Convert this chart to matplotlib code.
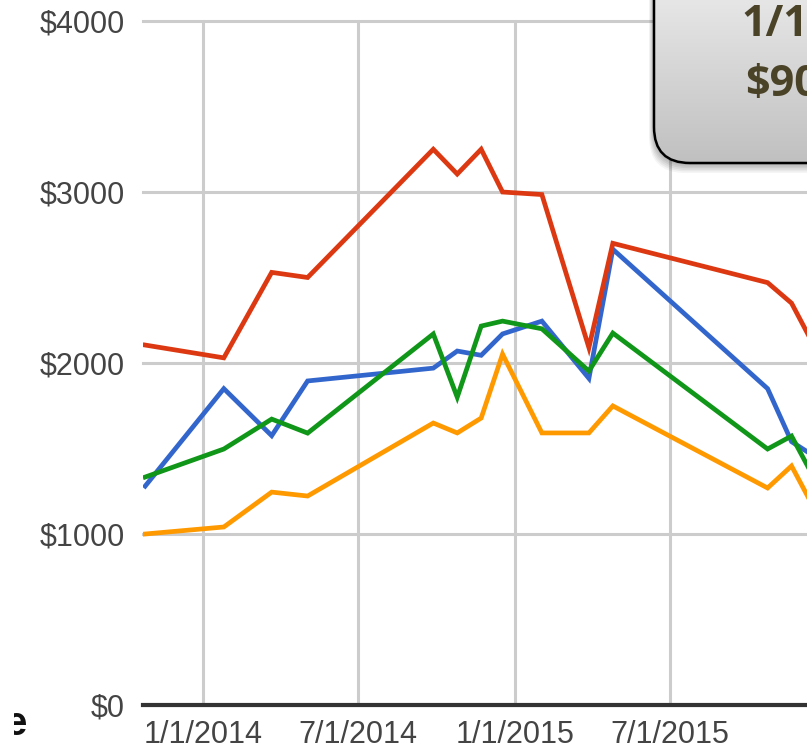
import matplotlib
matplotlib.use("Agg")
import matplotlib.pyplot as plt
import matplotlib.dates as mdates
from matplotlib.patches import FancyBboxPatch, Rectangle
from matplotlib.colors import LinearSegmentedColormap
import numpy as np
import datetime as dt

# ---- data ----
dates = ["2013-10-25", "2014-01-25", "2014-03-22", "2014-05-03", "2014-09-27",
         "2014-10-25", "2014-11-22", "2014-12-17", "2015-02-01", "2015-03-28",
         "2015-04-25", "2015-10-23", "2015-11-20", "2015-12-18"]
blue = [1280, 1850, 1575, 1895, 1970, 2070, 2045, 2170, 2245, 1910, 2665, 1850, 1540, 1450]
red = [2105, 2030, 2530, 2500, 3250, 3105, 3250, 3000, 2985, 2090, 2700, 2470, 2350, 2085]
orange = [1000, 1041, 1245, 1222, 1649, 1591, 1678, 2052, 1591, 1591, 1749, 1269, 1398, 1135]
green = [1333, 1497, 1672, 1590, 2170, 1800, 2216, 2245, 2200, 1953, 2175, 1497, 1573, 1312]
x_ticks = ["2014-01-01", "2014-07-01", "2015-01-01", "2015-07-01"]
x_tick_labels = ["1/1/2014", "7/1/2014", "1/1/2015", "7/1/2015"]
y_ticks = [0, 1000, 2000, 3000, 4000]
y_tick_labels = ["$0", "$1000", "$2000", "$3000", "$4000"]
tooltip_lines = ["1/1/2016", "$900"]

W, H = 807, 749
fig = plt.figure(figsize=(W / 100, H / 100), dpi=100)

ax_left, ax_right, ax_top, ax_bottom = 143, 950, 21, 705
ax = fig.add_axes([ax_left / W, (H - ax_bottom) / H, (ax_right - ax_left) / W, (ax_bottom - ax_top) / H])

xd = [mdates.date2num(dt.datetime.strptime(d, "%Y-%m-%d")) for d in dates]
px_per_day = 0.855
ref = mdates.date2num(dt.datetime(2014, 1, 1))
ref_px = 203.3
xmin = ref - (ref_px - ax_left) / px_per_day
xmax = xmin + (ax_right - ax_left) / px_per_day
ax.set_xlim(xmin, xmax)
ax.set_ylim(0, 4000)

lw = 3.4
ax.plot(xd, blue, color="#3366cc", lw=lw, solid_joinstyle="miter", zorder=3)
ax.plot(xd, red, color="#dc3912", lw=lw, solid_joinstyle="miter", zorder=4)
ax.plot(xd, orange, color="#ff9900", lw=lw, solid_joinstyle="miter", zorder=5)
ax.plot(xd, green, color="#109618", lw=lw, solid_joinstyle="miter", zorder=6)

xt = [mdates.date2num(dt.datetime.strptime(d, "%Y-%m-%d")) for d in x_ticks]
ax.set_xticks(xt)
ax.set_xticklabels(x_tick_labels)
ax.set_yticks(y_ticks)
ax.set_yticklabels(y_tick_labels)
for s in ax.spines.values():
    s.set_visible(False)
ax.tick_params(axis="both", length=0, labelsize=22, labelcolor="#444444")
ax.tick_params(axis="y", pad=13)
ax.tick_params(axis="x", pad=11)
for lab in ax.get_xticklabels() + ax.get_yticklabels():
    lab.set_fontfamily("Liberation Sans")
ax.grid(True, color="#cccccc", lw=2.2, zorder=0)
ax.set_axisbelow(True)
for gl in ax.yaxis.get_gridlines():
    gl.set_clip_on(False)
ax.axhline(0, color="#333333", lw=3.0, zorder=7, clip_on=False)

# ---- overlay in pixel coordinates ----
ov = fig.add_axes([0, 0, 1, 1])
ov.set_xlim(0, W)
ov.set_ylim(H, 0)
ov.axis("off")
ov.patch.set_alpha(0)

bx0, by0, bx1, by1 = 654, -60, 1000, 163
r = 36
for i, a in enumerate([0.07, 0.06, 0.06, 0.05, 0.05, 0.04]):
    off = 2 + i * 1.6
    sh = FancyBboxPatch((bx0 - off * 0.5, by0), bx1 - bx0, by1 - by0 + off,
                        boxstyle=f"round,pad=0,rounding_size={r}",
                        fc="#000000", ec="none", alpha=a, zorder=8)
    ov.add_patch(sh)
box = FancyBboxPatch((bx0, by0), bx1 - bx0, by1 - by0,
                     boxstyle=f"round,pad=0,rounding_size={r}",
                     fc="none", ec="#000000", lw=1.8, zorder=10)
ov.add_patch(box)
grad = np.linspace(0, 1, 256).reshape(-1, 1)
cm = LinearSegmentedColormap.from_list("g", ["#e6e6e6", "#c0c0c0"])
im = ov.imshow(grad, cmap=cm, extent=[bx0, bx1, by1, 0], aspect="auto", zorder=9)
im.set_clip_path(box)
ov.set_xlim(0, W)
ov.set_ylim(H, 0)

ov.text(741, 25, tooltip_lines[0], fontsize=31, fontweight="bold", family="Open Sans",
        color="#4b4328", ha="left", va="center", zorder=11)
ov.text(745, 84, tooltip_lines[1], fontsize=31, fontweight="bold", family="Open Sans",
        color="#4b4328", ha="left", va="center", zorder=11)

# partial label at bottom left
ov.text(27, 724, "e", fontsize=29, fontweight="bold", family="Liberation Sans",
        color="#111111", ha="right", va="center", zorder=11)
ov.add_patch(Rectangle((0, 700), 14, 49, fc="white", ec="none", zorder=12))

fig.savefig("out.png", dpi=100)
